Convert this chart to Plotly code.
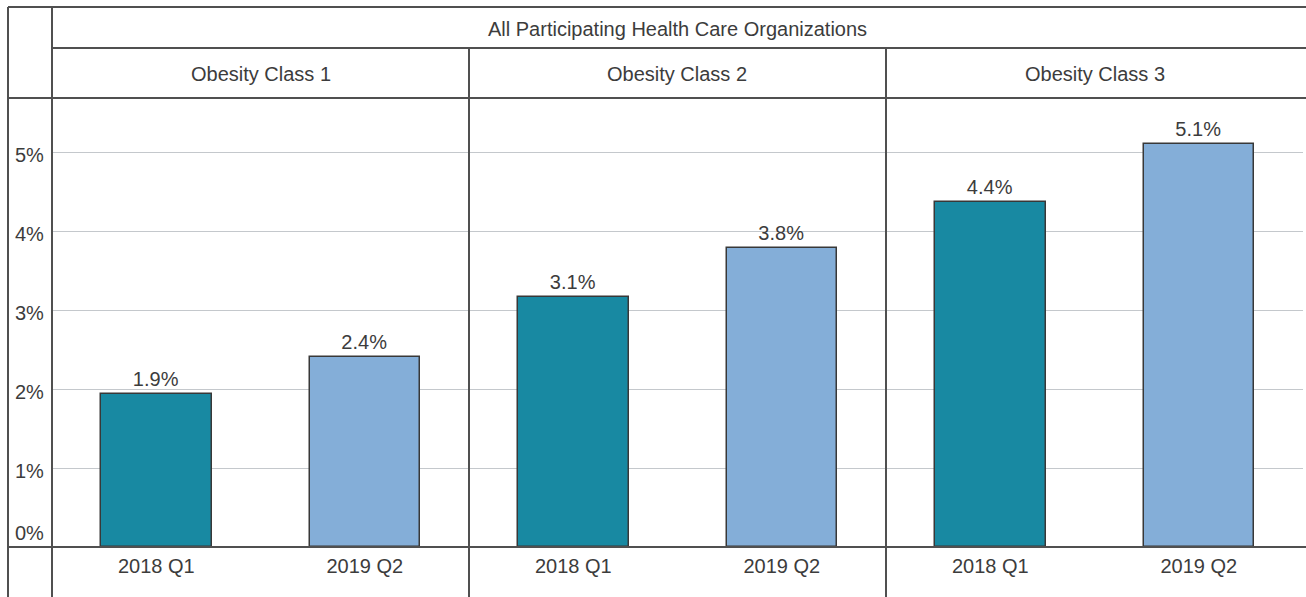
import plotly.graph_objects as go

W, H = 1306, 597

header = "All Participating Health Care Organizations"
panels = ["Obesity Class 1", "Obesity Class 2", "Obesity Class 3"]
periods = ["2018 Q1", "2019 Q2"]
values = [[1.94, 2.41], [3.16, 3.78], [4.37, 5.10]]
labels = [["1.9%", "2.4%"], ["3.1%", "3.8%"], ["4.4%", "5.1%"]]
y_ticks = [0, 1, 2, 3, 4, 5]
y_ticktext = ["0%", "1%", "2%", "3%", "4%", "5%"]
colors = ["#1889A2", "#84AED8"]

FONT = "Liberation Sans, Arial, Helvetica, sans-serif"
TXT = "#3c3c3c"
LINE = "#505050"

def px(x):
    return x / W

def py(y):
    return 1 - y / H

# layout geometry (pixels)
left_outer, left_inner = 8, 52
panel_edges = [52, 469, 886, 1303]
y_top, y_row1, y_row2, y_base = 7, 48, 98, 547
ymax = (y_base - y_row2) / 79.0

fig = go.Figure()
for i, name in enumerate(panels):
    xa = "x" if i == 0 else f"x{i+1}"
    ya = "y" if i == 0 else f"y{i+1}"
    fig.add_trace(go.Bar(
        x=periods, y=values[i], text=labels[i],
        textposition="outside", cliponaxis=False,
        textfont=dict(size=20, color=TXT, family=FONT),
        marker=dict(color=colors, line=dict(color="#383838", width=1.5)),
        width=0.53, xaxis=xa, yaxis=ya, showlegend=False,
        hoverinfo="skip",
    ))
    xkey = "xaxis" if i == 0 else f"xaxis{i+1}"
    ykey = "yaxis" if i == 0 else f"yaxis{i+1}"
    fig.layout[xkey] = dict(
        domain=[px(panel_edges[i]), px(panel_edges[i+1])],
        anchor=ya, range=[-0.5, 1.5], showgrid=False, zeroline=False,
        showline=False, ticks="outside", ticklen=1,
        tickcolor="rgba(0,0,0,0)",
        tickfont=dict(size=20, color=TXT, family=FONT), fixedrange=True,
    )
    fig.layout[ykey] = dict(
        domain=[py(y_base), py(y_row2)], anchor=xa, range=[0, ymax],
        tickvals=y_ticks[1:], showticklabels=False, showgrid=True,
        gridcolor="#c4c8cc", gridwidth=1, zeroline=False, showline=False,
        fixedrange=True,
    )

annotations = []
annotations.append(dict(
    x=px((panel_edges[0] + panel_edges[-1]) / 2), y=py((y_top + y_row1) / 2 + 1),
    xref="paper", yref="paper", text=header, showarrow=False,
    font=dict(size=20, color=TXT, family=FONT),
    xanchor="center", yanchor="middle"))
for i, name in enumerate(panels):
    annotations.append(dict(
        x=px((panel_edges[i] + panel_edges[i+1]) / 2),
        y=py((y_row1 + y_row2) / 2 + 1),
        xref="paper", yref="paper", text=name, showarrow=False,
        font=dict(size=20, color=TXT, family=FONT),
        xanchor="center", yanchor="middle"))
for v, t in zip(y_ticks, y_ticktext):
    annotations.append(dict(
        x=px(46), y=v, xref="paper", yref="y", text=t, showarrow=False,
        font=dict(size=20, color=TXT, family=FONT),
        xanchor="right", yanchor="middle",
        yshift=(14 if v == 0 else -3)))

shapes = []
def hline(y, x0, x1):
    shapes.append(dict(type="line", xref="paper", yref="paper",
                       x0=px(x0), x1=px(x1), y0=py(y), y1=py(y),
                       line=dict(color=LINE, width=2), layer="above"))
def vline(x, y0, y1):
    shapes.append(dict(type="line", xref="paper", yref="paper",
                       x0=px(x), x1=px(x), y0=py(y0), y1=py(y1),
                       line=dict(color=LINE, width=2), layer="above"))

hline(y_top, left_outer, W)
hline(y_row1, left_inner, W)
hline(y_row2, left_outer, W)
hline(y_base, left_outer, W)
vline(left_outer, y_top, H)
vline(left_inner, y_top, H)
vline(panel_edges[1], y_row1, H)
vline(panel_edges[2], y_row1, H)

fig.update_layout(
    width=W, height=H, margin=dict(l=0, r=0, t=0, b=0),
    paper_bgcolor="white", plot_bgcolor="white",
    annotations=annotations, shapes=shapes, bargap=0,
    font=dict(family=FONT, color=TXT),
)

fig.write_html(
    "out.html",
    config={"displayModeBar": False},
    post_script="document.body.style.margin='0';document.body.style.overflow='hidden';",
)
